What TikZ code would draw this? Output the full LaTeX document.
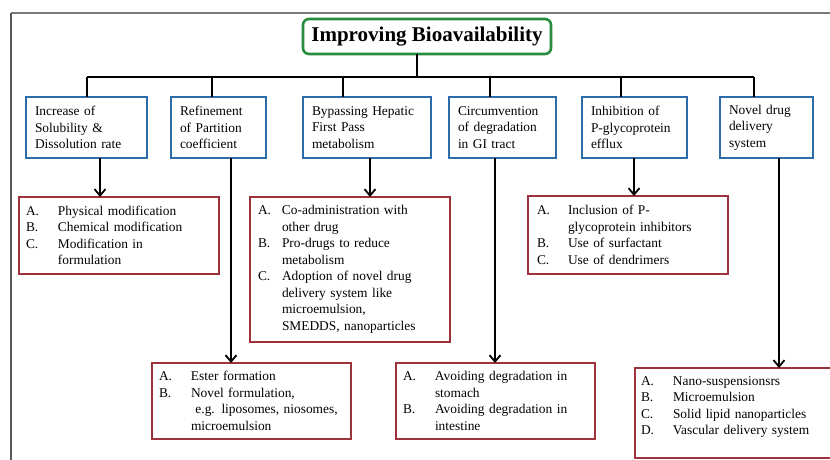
\documentclass[tikz,border=0pt]{standalone}
\usepackage{fontspec}
\setmainfont{Liberation Serif}
\usetikzlibrary{arrows.meta,calc}
\definecolor{bboxc}{RGB}{44,108,168}
\definecolor{rboxc}{RGB}{158,50,60}
\definecolor{gboxc}{RGB}{38,140,62}
\definecolor{framec}{RGB}{90,90,90}
\newcommand\LItem[2][32pt]{\makebox[#1][l]{#2}}
\newcommand\LCont[1][32pt]{\hspace*{#1}}
\begin{document}
\begin{tikzpicture}[x=1pt,y=-1pt,
  every node/.style={outer sep=0pt},
  bluebox/.style={draw=bboxc,line width=2.6pt,anchor=north west,inner xsep=9pt,inner ysep=0pt,
    align=left,font=\fontsize{13.4}{16.5}\selectfont},
  redbox/.style={draw=rboxc,line width=2.2pt,anchor=north west,inner xsep=7pt,inner ysep=0pt,
    align=left,font=\fontsize{13.4}{16.5}\selectfont},
  conn/.style={line width=1.9pt,black},
  arr/.style={conn,-{Straight Barb[length=6.5pt,width=11pt,line width=1.8pt]}},
]
\clip (0,0) rectangle (830,460);
\fill[white] (0,0) rectangle (830,460);
% frame
\draw[framec!80,line width=1.4pt] (11,13) -- (830,13);
\draw[framec,line width=1.4pt] (11,13) -- (11,460);

% title
\node[draw=gboxc,line width=2.6pt,rounded corners=6pt,anchor=north west,
  minimum width=248pt,minimum height=35pt,inner sep=0pt,
  font=\fontsize{21}{23}\selectfont\bfseries] (title) at (303,19) {Improving Bioavailability};

% blue boxes
\node[bluebox,text width=103pt,minimum height=61pt] (b1) at (26,97)
  {Increase of\\Solubility \&\\Dissolution rate};
\node[bluebox,text width=77pt,minimum height=61pt] (b2) at (171,97)
  {Refinement\\of Partition\\coefficient};
\node[bluebox,text width=110pt,minimum height=61pt] (b3) at (303,97)
  {Bypassing Hepatic\\First Pass\\metabolism};
\node[bluebox,text width=89pt,minimum height=61pt] (b4) at (449,97)
  {Circumvention\\of degradation\\in GI tract};
\node[bluebox,text width=87pt,minimum height=61pt] (b5) at (582,97)
  {Inhibition of\\P-glycoprotein\\efflux};
\node[bluebox,text width=75pt,minimum height=61pt] (b6) at (720,97)
  {Novel drug\\delivery\\system};

% red boxes
\node[redbox,text width=186pt,minimum height=77pt] (r1) at (19,197)
  {\LItem{A.}Physical modification\\
   \LItem{B.}Chemical modification\\
   \LItem{C.}Modification in\\
   \LCont formulation};
\node[redbox,inner xsep=8pt,text width=184pt,minimum height=145pt] (r3) at (250,197)
  {\LItem[24pt]{A.}Co-administration with\\
   \LCont[24pt]other drug\\
   \LItem[24pt]{B.}Pro-drugs to reduce\\
   \LCont[24pt]metabolism\\
   \LItem[24pt]{C.}Adoption of novel drug\\
   \LCont[24pt]delivery system like\\
   \LCont[24pt]microemulsion,\\
   \LCont[24pt]SMEDDS, nanoparticles};
\node[redbox,inner xsep=9pt,text width=182pt,minimum height=78pt] (r5) at (528,196)
  {\LItem[31pt]{A.}Inclusion of P-\\
   \LCont[31pt]glycoprotein inhibitors\\
   \LItem[31pt]{B.}Use of surfactant\\
   \LItem[31pt]{C.}Use of dendrimers};
\node[redbox,text width=185pt,minimum height=76pt] (r2) at (152,363)
  {\LItem{A.}Ester formation\\
   \LItem{B.}Novel formulation,\\
   \LCont\ e.g. liposomes, niosomes,\\
   \LCont microemulsion};
\node[redbox,text width=185pt,minimum height=76pt] (r4) at (396,363)
  {\LItem{A.}Avoiding degradation in\\
   \LCont stomach\\
   \LItem{B.}Avoiding degradation in\\
   \LCont intestine};
\node[redbox,inner xsep=6pt,text width=193pt,minimum height=90pt] (r6) at (635,368)
  {\LItem{A.}Nano-suspensionsrs\\
   \LItem{B.}Microemulsion\\
   \LItem{C.}Solid lipid nanoparticles\\
   \LItem{D.}Vascular delivery system\\[-1.5pt]
   \mbox{}};

% tree connectors
\coordinate (stem) at (417,77);
\coordinate (d1) at (87,77);
\coordinate (d2) at (212,77);
\coordinate (d3) at (343,77);
\coordinate (d4) at (490,77);
\coordinate (d5) at (621,77);
\coordinate (d6) at (754,77);
\draw[conn] (stem |- title.south) -- (stem);
\draw[conn] (d1) -- (d6);
\draw[conn] (d1) -- (d1 |- b1.north);
\draw[conn] (d2) -- (d2 |- b2.north);
\draw[conn] (d3) -- (d3 |- b3.north);
\draw[conn] (d4) -- (d4 |- b4.north);
\draw[conn] (d5) -- (d5 |- b5.north);
\draw[conn] (d6) -- (d6 |- b6.north);

% arrows to red boxes
\draw[arr] ([xshift=13.5pt]b1.south) -- ([xshift=13.5pt]b1.south |- r1.north);
\draw[arr] ([xshift=12.5pt]b2.south) -- ([xshift=12.5pt]b2.south |- r2.north);
\draw[arr] ([xshift=3pt]b3.south) -- ([xshift=3pt]b3.south |- r3.north);
\draw[arr] ([xshift=-7.5pt]b4.south) -- ([xshift=-7.5pt]b4.south |- r4.north);
\draw[arr] ([xshift=-0.5pt]b5.south) -- ([xshift=-0.5pt]b5.south |- r5.north);
\draw[arr] ([xshift=12.5pt]b6.south) -- ([xshift=12.5pt]b6.south |- r6.north);
\end{tikzpicture}
\end{document}
